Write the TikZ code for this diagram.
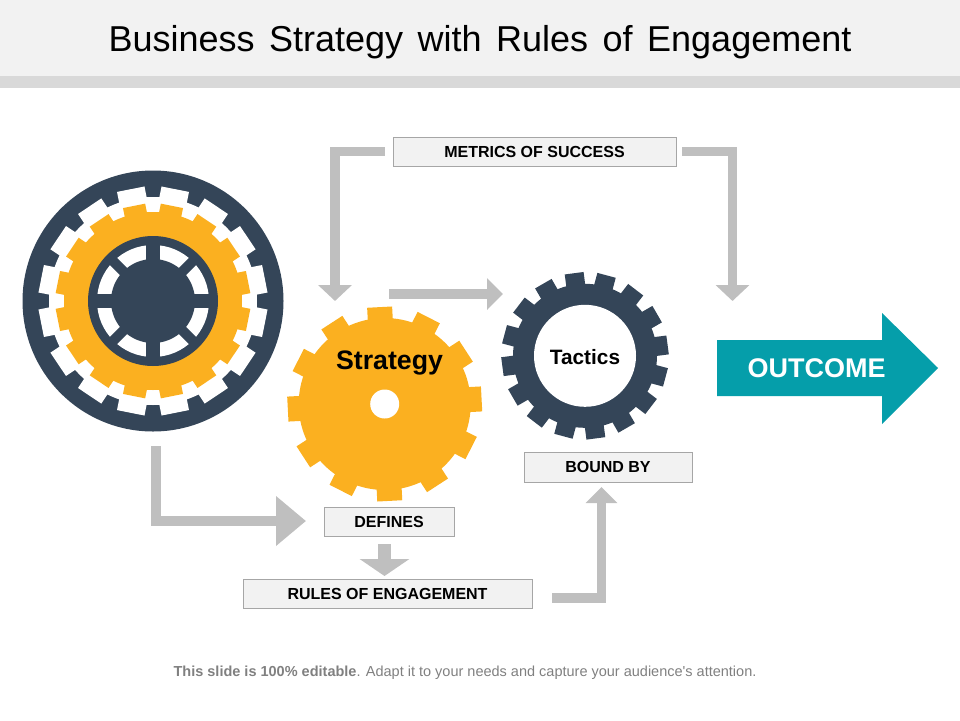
\documentclass[tikz,border=0pt]{standalone}
\usepackage{fontspec}
\setmainfont{Liberation Sans}
\usetikzlibrary{arrows.meta}
\usetikzlibrary{calc}
\definecolor{gearnavy}{RGB}{52,69,88}
\definecolor{gearorange}{RGB}{251,176,32}
\definecolor{outcometeal}{RGB}{5,158,170}
\definecolor{flowgrey}{RGB}{191,191,191}
\tikzstyle{labelbox}=[draw=black!35,fill=black!5,line width=0.3mm,inner sep=0pt,text height=11.5pt,text depth=0pt,font=\bfseries\fontsize{16}{18}\selectfont]
\tikzstyle{flowline}=[draw=flowgrey,line width=9.5pt]
\tikzstyle{smallflow}=[flowline,-{Triangle[length=16pt,width=33pt]}]
% teeth of a gear: root radius, tip radius, half tooth width, count, offset, colour
\newcommand{\gearteeth}[6]{
  \fill[#6] (0,0) circle (#1);
  \foreach \k in {1,...,#4}
    \fill[#6,rotate={#5+360*\k/#4}] (-#3,0) rectangle (#3,-#2);
}

\begin{document}
\begin{tikzpicture}[x=1pt,y=-1pt]
  \useasboundingbox (0,0) rectangle (960,720);
  \fill[black!5] (0,0) rectangle (960,76);
  \fill[black!15] (0,76) rectangle (960,88);
  \node (title) at (480,42) {\fontsize{36}{42}\selectfont\spaceskip=14.5pt Business Strategy with Rules of Engagement};

  % big gear on the left
  \begin{scope}[shift={(153,301)}]
    \fill[gearnavy] (0,0) circle (130.5);
    \gearteeth{104}{114}{14}{16}{11.25}{white}
    \gearteeth{89}{97}{11.3}{16}{11.25}{gearorange}
    \fill[gearnavy] (0,0) circle (65);
    \fill[white] (0,0) circle (56);
    \foreach \a in {0,90,180,270}
      \fill[gearnavy,rotate=\a] (-7,0) rectangle (7,-60);
    \foreach \a in {45,135,225,315}
      \fill[gearnavy,rotate=\a] (-5,0) rectangle (5,-60);
    \fill[gearnavy] (0,0) circle (42);
  \end{scope}

  % strategy gear
  \begin{scope}[shift={(384.7,404)}]
    \gearteeth{86}{97}{12.5}{12}{3}{gearorange}
    \fill[white] (0,0) circle (14.5);
  \end{scope}
  \node (strategy) at (389.5,363) {\bfseries\fontsize{26.7}{30}\selectfont Strategy};

  % tactics gear
  \begin{scope}[shift={(585,355.8)}]
    \gearteeth{72}{83.3}{9.5}{16}{7.5}{gearnavy}
    \fill[white] (0,0) circle (51);
  \end{scope}
  \node (tactics) at (585,357) {\bfseries\fontsize{20.8}{24}\selectfont Tactics};

  \node[labelbox,minimum width=283pt,minimum height=29pt] (metrics) at (534.5,151.5) {METRICS OF SUCCESS};
  \node[labelbox,minimum width=168pt,minimum height=30pt] (bound) at (608,467) {BOUND BY};
  \node[labelbox,minimum width=130pt,minimum height=29pt] (defines) at (389,521.5) {DEFINES};
  \node[labelbox,minimum width=289pt,minimum height=29pt] (rules) at (387.5,593.5) {RULES OF ENGAGEMENT};

  \coordinate (lefttip) at (335,301);
  \coordinate (righttip) at (732.5,301);
  \coordinate (midstart) at (389,294);
  \coordinate (midtip) at (503,294);
  \coordinate (bigstart) at (156,446);
  \coordinate (bigtip) at (306,521);
  \coordinate (boundtip) at (601.5,487);

  \draw[smallflow] ([xshift=-8pt]metrics.west) -| (lefttip);
  \draw[smallflow] ([xshift=6pt]metrics.east) -| (righttip);
  \draw[flowline,-{Triangle[length=16pt,width=31pt]}] (midstart) -- (midtip);
  \draw[flowline,-{Triangle[length=30pt,width=48pt]}] (bigstart) |- (bigtip);
  \draw[flowgrey,line width=13pt,-{Triangle[length=17pt,width=49pt]}] (384.5,544) -- (384.5,576);
  \draw[flowline,-{Triangle[length=16pt,width=31pt]}] ([xshift=20pt,yshift=-4.5pt]rules.east) -| (boundtip);

  % outcome arrow
  \fill[outcometeal] (717,340) -- (882,340) -- (882,313) -- (938,368) -- (882,424) -- (882,396) -- (717,396) -- cycle;
  \node[text=white] (outcome) at (816.5,368) {\bfseries\fontsize{27}{30}\selectfont OUTCOME};

  \node[text=black!50] (footer) at (465,673) {\fontsize{14.5}{17}\selectfont\addfontfeature{Ligatures=TeXOff} \textbf{This slide is 100\% editable}. Adapt it to your needs and capture your audience's attention.};
\end{tikzpicture}
\end{document}
